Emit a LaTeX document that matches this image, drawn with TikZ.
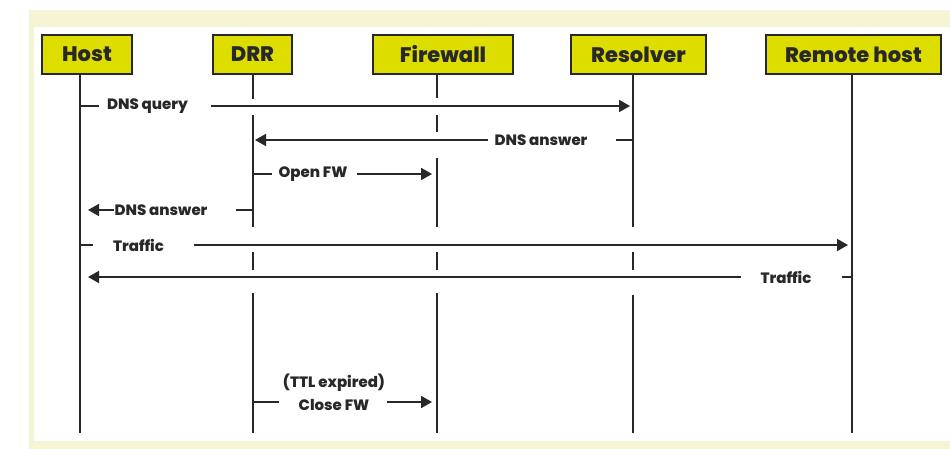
\documentclass[tikz,border=0pt]{standalone}
\usepackage{fontspec}
\setmainfont{Poppins}[BoldFont={* ExtraBold}]
\usetikzlibrary{arrows.meta}
\definecolor{cream}{RGB}{245,245,214}
\definecolor{boxy}{RGB}{221,221,0}
\definecolor{ink}{RGB}{40,40,40}
\begin{document}
\begin{tikzpicture}[x=1pt,y=-1pt,
  box/.style={draw=ink, line width=1.6pt, fill=boxy, minimum height=39pt, inner sep=0pt,
    font=\fontsize{21}{22}\selectfont\bfseries, text=ink},
  life/.style={draw=ink, line width=1.8pt},
  msg/.style={draw=ink, line width=1.8pt},
  arr/.style={msg, -{Triangle[length=11pt,width=12pt]}},
  lbl/.style={font=\fontsize{15}{23}\selectfont\bfseries, text=ink, inner sep=0pt},
  gap/.style={fill=white}]
\useasboundingbox (0,0) rectangle (950,449);
% background
\fill[cream] (29,10) rectangle (950,449);
\fill[white] (34,27) rectangle (950,441);
% participants
\node[box, minimum width=90pt]  (host) at (87,54.5)    {Host};
\node[box, minimum width=79pt]  (drr)  at (252.5,54.5) {DRR};
\node[box, minimum width=140pt] (fw)   at (443,54.5)   {Firewall};
\node[box, minimum width=135pt] (res)  at (638.5,54.5) {Resolver};
\node[box, minimum width=175pt] (rem)  at (853.5,54.5) {Remote host};
% lifelines
\coordinate (hT) at (80,74);   \coordinate (hB) at (80,433);
\coordinate (dT) at (253,74);  \coordinate (dB) at (253,433);
\coordinate (fT) at (437,74);  \coordinate (fB) at (437,433);
\coordinate (rT) at (633,74);  \coordinate (rB) at (633,433);
\coordinate (mT) at (852,74);  \coordinate (mB) at (852,433);
\draw[life] (hT) -- (hB);
\draw[life] (dT) -- (dB);
\draw[life] (fT) -- (fB);
\draw[life] (rT) -- (rB);
\draw[life] (mT) -- (mB);
% breaks where messages pass over lifelines
\fill[gap] (245,99) rectangle (261,115);
\fill[gap] (245,227) rectangle (261,252);
\fill[gap] (245,270) rectangle (261,293);
\fill[gap] (429,98) rectangle (445,115);
\fill[gap] (429,132) rectangle (445,158);
\fill[gap] (429,227) rectangle (445,252);
\fill[gap] (429,270) rectangle (445,293);
\fill[gap] (625,227) rectangle (641,252);
\fill[gap] (625,270) rectangle (641,295);
% 1 DNS query
\node[lbl] (q1) at (147.5,106) {DNS query};
\draw[msg] (hT |- q1) -- ([xshift=-8pt]q1.west);
\draw[arr, shorten >=3pt] ([xshift=23pt]q1.east) -- (rT |- q1);
% 2 DNS answer to DRR
\node[lbl] (a1) at (541,140) {DNS answer};
\draw[msg] (rT |- a1) -- ([xshift=28pt]a1.east);
\draw[arr, shorten >=2pt] ([xshift=-6pt]a1.west) -- (dT |- a1);
% 3 Open FW
\node[lbl] (o1) at (313,174) {Open FW};
\draw[msg] (dT |- o1) -- ([xshift=-6pt]o1.west);
\draw[arr, shorten >=5pt] ([xshift=9pt]o1.east) -- (fT |- o1);
% 4 DNS answer to host
\node[lbl] (a2) at (161,210) {DNS answer};
\draw[msg] (dT |- a2) -- ([xshift=28pt]a2.east);
\draw[arr, shorten >=8pt] (a2.west) -- (hT |- a2);
% 5 Traffic out
\node[lbl] (t1) at (138.5,245) {Traffic};
\draw[msg] (hT |- t1) -- ([xshift=-20pt]t1.west);
\draw[arr, shorten >=4pt] ([xshift=30pt]t1.east) -- (mT |- t1);
% 6 Traffic back
\node[lbl] (t2) at (786,277) {Traffic};
\draw[msg] (mT |- t2) -- ([xshift=30pt]t2.east);
\draw[arr, shorten >=8pt] ([xshift=-19pt]t2.west) -- (hT |- t2);
% 7 Close FW
\node[lbl, align=center] (c1) at (334,392) {(TTL expired)\\Close FW};
\coordinate (c1y) at (0,402);
\draw[msg] (dT |- c1y) -- ([xshift=-4pt]c1.west |- c1y);
\draw[arr, shorten >=5pt] ([xshift=2pt]c1.east |- c1y) -- (fT |- c1y);
\end{tikzpicture}
\end{document}
